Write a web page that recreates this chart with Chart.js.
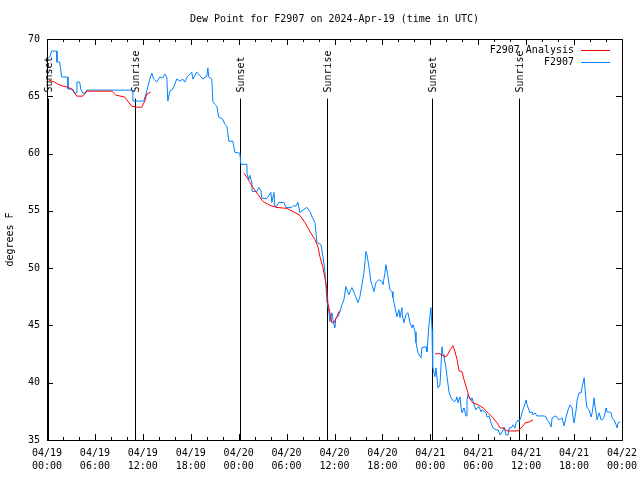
<!DOCTYPE html>
<html>
<head>
<meta charset="utf-8">
<title>Dew Point for F2907</title>
<script src="https://cdn.jsdelivr.net/npm/chart.js@4"></script>
<style>
    html, body { margin: 0; padding: 0; background: #ffffff; }
    #wrap { width: 640px; height: 480px; }
</style>
</head>
<body>
<div id="wrap"><canvas id="dewChart" width="640" height="480"></canvas></div>
<script>
// Hours since 04/19 00:00 UTC and dew point (deg F)
const obsHours = [
    0.0, 0.34, 0.59, 1.22, 1.25, 1.59, 1.84, 2.59, 2.62, 3.22, 3.47, 3.72, 3.75, 4.10, 4.22, 4.47, 4.85, 4.97,
    10.74, 10.77, 12.12, 12.49, 12.87, 13.12, 13.37, 13.75, 14.12, 14.50, 14.75, 15.00, 15.13, 15.38, 15.75,
    16.25, 16.63, 17.00, 17.25, 17.63, 18.13, 18.26, 18.76, 19.51, 20.01, 20.14, 20.26, 20.64, 20.76, 21.01,
    21.26, 21.51, 22.01, 22.26, 22.52, 22.77, 23.27, 23.52, 24.15, 24.27, 25.03, 25.06, 25.28, 25.40, 25.65,
    25.68, 26.28, 26.53, 26.78, 26.91, 27.53, 28.03, 28.16, 28.41, 28.53, 28.66, 29.03, 29.66, 29.91, 30.66,
    30.91, 31.16, 31.41, 31.66, 32.17, 32.54, 32.92, 33.17, 33.55, 33.80, 34.30, 34.55, 34.80, 34.92, 35.05,
    35.30, 35.43, 35.68, 35.80, 36.05, 36.18, 36.43, 36.68, 36.93, 37.18, 37.43, 37.56, 37.81, 38.06, 38.18,
    38.56, 38.93, 39.18, 39.44, 39.69, 39.94, 40.06, 40.31, 40.56, 40.69, 40.94, 41.19, 41.57, 41.94, 42.07,
    42.32, 42.44, 42.69, 42.94, 43.20, 43.32, 43.57, 43.82, 44.07, 44.20, 44.45, 44.48, 44.70, 44.95, 45.20,
    45.45, 45.70, 45.83, 46.08, 46.20, 46.45, 46.83, 46.95, 47.46, 47.58, 47.83, 48.08, 48.21, 48.25, 48.33,
    48.58, 48.71, 48.96, 49.21, 49.46, 49.59, 49.71, 49.96, 50.09, 50.34, 50.59, 50.97, 51.22, 51.34, 51.47,
    51.72, 51.84, 51.97, 52.22, 52.47, 52.59, 52.72, 53.10, 53.22, 53.47, 53.72, 53.85, 54.10, 54.35, 54.47,
    54.97, 55.10, 55.35, 55.60, 55.85, 56.23, 56.48, 56.73, 56.98, 57.11, 57.23, 57.48, 57.73, 57.86, 58.11,
    58.36, 58.61, 58.73, 58.98, 59.11, 59.36, 59.49, 59.74, 59.99, 60.11, 60.49, 60.74, 60.86, 61.11, 61.36,
    62.24, 62.49, 62.62, 62.87, 63.12, 63.25, 63.62, 63.87, 64.12, 64.50, 64.62, 64.75, 65.00, 65.25, 65.50,
    65.75, 65.88, 66.00, 66.25, 66.38, 66.63, 66.88, 67.01, 67.26, 67.38, 67.51, 67.63, 67.88, 68.13, 68.26,
    68.51, 68.63, 68.76, 68.88, 69.14, 69.39, 69.51, 69.76, 70.01, 70.14, 70.39, 70.64, 70.76, 71.01, 71.27,
    71.39, 71.51, 71.77
];
const obsValues = [
    68.25, 68.43, 68.95, 68.95, 67.99, 67.99, 66.68, 66.68, 65.63, 65.63, 65.28, 65.28, 66.24, 66.24, 65.63, 65.28, 65.28, 65.54,
    65.54, 64.58, 64.58, 65.45, 66.50, 67.03, 66.50, 66.24, 66.68, 66.59, 66.94, 66.68, 64.58, 65.45, 65.63,
    66.50, 66.33, 66.50, 66.24, 66.76, 67.11, 66.50, 67.11, 66.50, 66.76, 67.46, 66.68, 66.50, 64.58, 64.31,
    64.14, 63.18, 63.00, 62.56, 62.39, 61.08, 61.08, 60.11, 60.03, 59.06, 59.06, 58.19, 57.75, 58.10, 57.49,
    56.70, 56.70, 57.05, 56.79, 56.09, 56.09, 56.61, 55.74, 56.61, 55.39, 55.30, 55.74, 55.74, 55.30, 55.30,
    55.48, 55.39, 55.74, 54.86, 55.13, 55.30, 54.95, 54.51, 53.99, 52.24, 52.06, 51.01, 49.70, 48.56, 47.08,
    46.20, 45.33, 46.11, 45.50, 44.80, 45.68, 45.76, 46.20, 46.81, 47.25, 48.39, 48.13, 47.69, 48.13, 48.30,
    47.69, 46.99, 47.51, 48.56, 49.61, 51.45, 51.19, 50.14, 48.83, 48.56, 47.95, 48.74, 49.00, 48.83, 48.56,
    49.61, 50.31, 49.26, 48.13, 47.95, 47.43, 46.55, 45.76, 46.38, 45.68, 46.55, 45.94, 45.24, 45.94, 46.11,
    45.24, 44.80, 45.06, 44.45, 43.49, 42.61, 42.18, 43.05, 43.14, 42.70, 45.06, 46.55, 44.63, 43.31, 41.39,
    40.52, 41.30, 39.55, 39.81, 43.14, 42.44, 42.26, 41.30, 40.52, 39.20, 38.68, 38.33, 38.50, 38.76, 38.24,
    38.76, 37.89, 37.37, 37.80, 37.10, 38.50, 38.94, 38.50, 38.68, 38.07, 37.63, 37.80, 37.89, 37.45, 37.63,
    37.37, 37.01, 37.10, 36.49, 36.05, 35.88, 35.88, 35.44, 35.70, 35.88, 36.14, 35.44, 35.44, 36.05, 36.05,
    36.32, 36.05, 36.49, 36.75, 36.58, 37.01, 37.45, 37.89, 38.50, 38.07, 37.37, 37.45, 37.19, 37.37, 37.10,
    37.10, 37.01, 36.75, 36.58, 36.14, 36.93, 37.10, 37.01, 36.75, 36.93, 36.58, 36.23, 37.01, 37.63, 38.07,
    37.80, 36.93, 36.49, 37.63, 38.50, 39.12, 39.12, 39.64, 40.43, 39.38, 38.33, 37.80, 37.63, 37.01, 37.37,
    38.68, 37.89, 37.37, 36.75, 37.37, 36.75, 36.75, 37.01, 37.80, 37.45, 37.45, 37.37, 36.93, 36.75, 36.32,
    36.05, 36.49, 36.58
];

// analysis only runs during the night; null breaks the line
const anaHours = [
    0.24, 0.96, 1.34, 1.97, 2.59, 3.10, 3.72, 4.47, 4.97, 8.11, 8.61, 9.74, 10.11, 10.61, 11.24, 11.87, 12.24, 12.49, 12.99,
    18.0,
    24.65, 25.03, 25.40, 25.78, 26.41, 27.03, 27.91, 28.79, 30.04, 30.79, 31.67, 32.29, 32.92, 33.55, 33.92, 34.17,
    34.55, 34.80, 35.05, 35.17, 35.42, 35.67, 35.92, 36.30, 36.55, 36.68,
    42.0,
    48.58, 49.21, 49.84, 50.09, 50.47, 50.84, 51.10, 51.35, 51.60, 51.97, 52.22, 52.60, 52.85, 53.35, 53.98, 54.61,
    55.23, 55.86, 56.36, 56.74, 57.11, 57.61, 58.99, 59.49, 59.87, 60.36, 60.87
];
const anaValues = [
    66.41, 66.24, 66.06, 65.89, 65.80, 65.63, 65.01, 65.01, 65.45, 65.45, 65.10, 64.93, 64.58, 64.14, 64.05, 64.05, 64.58, 65.19, 65.36,
    null,
    58.28, 57.93, 57.49, 57.05, 56.44, 55.83, 55.48, 55.30, 55.21, 54.95, 54.60, 53.99, 53.20, 52.50, 51.89, 51.01,
    50.05, 49.17, 48.13, 46.99, 46.11, 45.24, 45.24, 45.76, 46.20, 46.29,
    null,
    42.53, 42.53, 42.26, 42.35, 42.88, 43.23, 42.70, 42.00, 41.04, 40.95, 40.25, 39.38, 38.68, 38.24, 38.07, 37.80,
    37.37, 36.93, 36.49, 36.05, 36.05, 35.79, 35.79, 36.14, 36.49, 36.58, 36.75
];

const sunHours = [0.09, 11.0, 24.15, 35.1, 48.2, 59.05];
const sunNames = ['Sunset', 'Sunrise', 'Sunset', 'Sunrise', 'Sunset', 'Sunrise'];

const dateLabels = ['04/19', '04/19', '04/19', '04/19', '04/20', '04/20', '04/20', '04/20', '04/21', '04/21', '04/21', '04/21', '04/22'];
const timeLabels = ['00:00', '06:00', '12:00', '18:00', '00:00', '06:00', '12:00', '18:00', '00:00', '06:00', '12:00', '18:00', '00:00'];

const chartTitle = 'Dew Point for F2907 on 2024-Apr-19 (time in UTC)';
const MONO = "'DejaVu Sans Mono', 'Liberation Mono', monospace";

const toPoints = (xs, ys) => xs.map((h, i) => ({ x: h, y: ys[i] }));

// gnuplot-ish frame: box, inward ticks, title, legend, sun markers
const framePlugin = {
    id: 'frame',
    beforeDatasetsDraw(chart) {
        const { ctx, chartArea, scales } = chart;
        ctx.save();
        ctx.strokeStyle = '#000';
        ctx.lineWidth = 1;
        ctx.fillStyle = '#000';
        ctx.font = '10px ' + MONO;
        const lineTop = scales.y.getPixelForValue(64.8);
        sunHours.forEach((h, i) => {
            const px = Math.round(scales.x.getPixelForValue(h)) + 0.5;
            ctx.beginPath();
            ctx.moveTo(px, lineTop);
            ctx.lineTo(px, chartArea.bottom);
            ctx.stroke();
            // rotated label, reading bottom to top, ending just above the line
            ctx.save();
            ctx.translate(px + 1, lineTop - 6);
            ctx.rotate(-Math.PI / 2);
            ctx.textAlign = 'left';
            ctx.textBaseline = 'middle';
            ctx.fillText(sunNames[i], 0, 0);
            ctx.restore();
        });
        ctx.restore();
    },
    afterDraw(chart) {
        const { ctx, chartArea, scales } = chart;
        const { left, right, top, bottom } = chartArea;
        ctx.save();
        ctx.strokeStyle = '#000';
        ctx.lineWidth = 1;
        ctx.strokeRect(Math.round(left) + 0.5, Math.round(top) + 0.5,
            Math.round(right - left), Math.round(bottom - top));

        ctx.beginPath();
        for (let h = 0; h <= 72; h += 2) {
            const px = Math.round(scales.x.getPixelForValue(h)) + 0.5;
            const len = h % 6 === 0 ? 6 : 3;
            ctx.moveTo(px, bottom);
            ctx.lineTo(px, bottom - len);
            ctx.moveTo(px, top);
            ctx.lineTo(px, top + len);
        }
        for (let v = 35; v <= 70; v += 5) {
            const py = Math.round(scales.y.getPixelForValue(v)) + 0.5;
            ctx.moveTo(left, py);
            ctx.lineTo(left + 6, py);
            ctx.moveTo(right, py);
            ctx.lineTo(right - 6, py);
        }
        ctx.stroke();

        ctx.fillStyle = '#000';
        ctx.font = '10px ' + MONO;
        ctx.textAlign = 'center';
        ctx.textBaseline = 'middle';
        ctx.fillText(chartTitle, (left + right) / 2, 19);

        // legend: right-aligned text with a sample line after it
        ctx.textAlign = 'right';
        chart.data.datasets.forEach((ds, i) => {
            const y = 50 + i * 12;
            ctx.fillText(ds.label, 574, y);
            ctx.strokeStyle = ds.borderColor;
            ctx.beginPath();
            ctx.moveTo(581, y + 0.5);
            ctx.lineTo(610, y + 0.5);
            ctx.stroke();
        });
        ctx.restore();
    }
};

new Chart(document.getElementById('dewChart'), {
    type: 'line',
    data: {
        datasets: [
            {
                label: 'F2907 Analysis',
                data: toPoints(anaHours, anaValues),
                borderColor: '#ff0000',
                borderWidth: 1,
                pointRadius: 0,
                spanGaps: false,
                order: 0
            },
            {
                label: 'F2907',
                data: toPoints(obsHours, obsValues),
                borderColor: '#0080ff',
                borderWidth: 1,
                pointRadius: 0,
                order: 1
            }
        ]
    },
    options: {
        responsive: false,
        animation: false,
        devicePixelRatio: 1,
        layout: { padding: { top: 39, right: 18, bottom: 0, left: 0 } },
        plugins: {
            legend: { display: false },
            title: { display: false },
            tooltip: { enabled: false }
        },
        scales: {
            x: {
                type: 'linear',
                min: 0,
                max: 72,
                grid: { display: false, drawTicks: false },
                border: { display: false },
                afterFit: (scale) => {
                    scale.height = 40;
                    scale.paddingLeft = 0;
                    scale.paddingRight = 0;
                },
                ticks: {
                    stepSize: 6,
                    autoSkip: false,
                    maxRotation: 0,
                    padding: 7,
                    color: '#000',
                    font: { family: MONO, size: 10, lineHeight: 1.3 },
                    callback: (value) => {
                        const i = Math.round(value / 6);
                        return [dateLabels[i], timeLabels[i]];
                    }
                }
            },
            y: {
                min: 35,
                max: 70,
                grid: { display: false, drawTicks: false },
                border: { display: false },
                afterFit: (scale) => {
                    scale.width = 47;
                    scale.paddingTop = 0;
                    scale.paddingBottom = 0;
                },
                title: {
                    display: true,
                    text: 'degrees F',
                    color: '#000',
                    font: { family: MONO, size: 10 },
                    padding: { top: 4, bottom: 0 }
                },
                ticks: {
                    stepSize: 5,
                    padding: 7,
                    color: '#000',
                    font: { family: MONO, size: 10 }
                }
            }
        }
    },
    plugins: [framePlugin]
});
</script>
</body>
</html>
